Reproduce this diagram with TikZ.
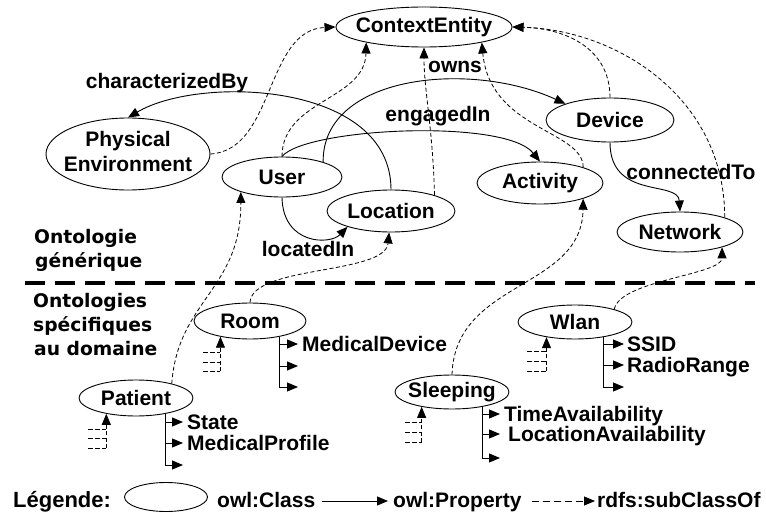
\documentclass[tikz,border=0pt]{standalone}
\usepackage{fontspec}
\setmainfont{Liberation Sans}
\newfontfamily\headfont{DejaVu Sans}
\usetikzlibrary{arrows.meta,shapes.geometric}
% text of zero width, so that the ellipse keeps its given size
\newcommand\zw[1]{\makebox[0pt][c]{#1}}
\begin{document}
\begin{tikzpicture}[x=1pt,y=-1pt,
  every node/.style={font=\bfseries\fontsize{21}{25}\selectfont, inner sep=0pt},
  cls/.style={draw, ellipse, line width=0.9pt},
  tip/.style={-{Triangle[length=11pt,width=9pt]}},
  prop/.style={tip, line width=0.9pt},
  sub/.style={tip, line width=0.8pt, dash pattern=on 4pt off 2.5pt},
  stubline/.style={line width=0.8pt, dash pattern=on 5pt off 2pt},
  lbl/.style={anchor=base},
  plbl/.style={anchor=base west},
  head/.style={anchor=base west, font=\headfont\bfseries\fontsize{18.7}{24}\selectfont}
]
\useasboundingbox (0,0) rectangle (766,516);

% ---- classes ----
\node[cls, minimum width=176pt, minimum height=40pt] (ce)   at (424,27)  {\zw{ContextEntity}};
\node[cls, minimum width=164pt, minimum height=72pt] (phys) at (128,154)
  {\zw{\begin{tabular}{@{}c@{}}Physical\\Environment\end{tabular}}};
\node[cls, minimum width=120pt, minimum height=40pt] (user) at (282,177) {\zw{User}};
\node[cls, minimum width=128pt, minimum height=42pt] (loc)  at (391,211) {\zw{Location}};
\node[cls, minimum width=128pt, minimum height=44pt] (dev)  at (610,120) {\zw{Device}};
\node[cls, minimum width=126pt, minimum height=42pt] (act)  at (540,183) {\zw{Activity}};
\node[cls, minimum width=126pt, minimum height=40pt] (net)  at (680,232) {\zw{Network}};
\node[cls, minimum width=112pt, minimum height=36pt] (room) at (250,321) {\zw{Room}};
\node[cls, minimum width=114pt, minimum height=36pt] (pat)  at (136,398) {\zw{Patient}};
\node[cls, minimum width=114pt, minimum height=34pt] (wlan) at (575,322) {\zw{Wlan}};
\node[cls, minimum width=114pt, minimum height=34pt] (slp)  at (452,392) {\zw{Sleeping}};

% ---- properties of the generic ontology ----
\draw[prop] (loc.north) .. controls (391,82) and (200,75) .. (phys.north);
\draw[prop] (user.20) .. controls (322,75) and (470,60) .. (dev.160);
\draw[prop] (user.north) .. controls (305,128) and (505,118) .. (act.north);
\draw[prop] (user.south) .. controls (283,245) and (330,245) .. (loc.200);
\draw[prop] (dev.south) .. controls (610,200) and (678,180) .. (net.north);

\node[lbl] (lcb) at (167,89)  {characterizedBy};
\node[lbl] (low) at (455,73)  {owns};
\node[lbl] (len) at (438,122) {engagedIn};
\node[lbl] (lct) at (691,179) {connectedTo};
\node[lbl] (lli) at (308,256) {locatedIn};

% ---- subclass links ----
\draw[sub] (phys.east) .. controls (275,150) and (265,30) .. (ce.west);
\draw[sub] (user.north) .. controls (282,100) and (365,100) .. (ce.195);
\draw[sub] (loc.20) .. controls (433,130) and (424,90) .. (ce.south);
\draw[sub] (act.20) .. controls (583,130) and (490,130) .. (ce.-15);
\draw[sub] (dev.north) .. controls (610,45) and (560,28) .. (ce.east);
\draw[sub] (net.18) .. controls (725,100) and (620,30) .. (ce.east);
\draw[sub] (pat.22) .. controls (178,300) and (241,290) .. (user.200);
\draw[sub] (room.north) .. controls (252,265) and (385,275) .. (loc.265);
\draw[sub] (slp.north) .. controls (455,280) and (582,290) .. (act.-20);
\draw[sub] (wlan.18) .. controls (620,280) and (722,275) .. (net.-20);

% ---- separator and section titles ----
\draw[line width=4pt, dash pattern=on 20pt off 10pt] (25,283) -- (755,283);
\node[head] (h1) at (34,243) {Ontologie};
\node[head] (h2) at (35,267) {générique};
\node[head] (h3) at (33,307) {Ontologies};
\node[head] (h4) at (33,331) {spécifiques};
\node[head] (h5) at (34,355) {au domaine};

% ---- domain classes: property stubs ----
\draw[prop] (pat.-28) |- (183,465);
\draw[prop] (pat.-28 |- 0,422) -- (183,422);
\draw[prop] (pat.-28 |- 0,443) -- (183,443);
\node[plbl] (pst) at (187,429.5) {State};
\node[plbl] (pmp) at (187,450.5) {MedicalProfile};

\draw[prop] (room.-28) |- (298,387);
\draw[prop] (room.-28 |- 0,344) -- (298,344);
\draw[prop] (room.-28 |- 0,366) -- (298,366);
\node[plbl] (rmd) at (302,351.5) {MedicalDevice};

\draw[prop] (wlan.-28) |- (624,387);
\draw[prop] (wlan.-28 |- 0,344) -- (624,344);
\draw[prop] (wlan.-28 |- 0,365) -- (624,365);
\node[plbl] (wss) at (627,351.5) {SSID};
\node[plbl] (wrr) at (627,372.5) {RadioRange};

\draw[prop] (slp.-26) |- (500,458);
\draw[prop] (slp.-26 |- 0,414) -- (500,414);
\draw[prop] (slp.-26 |- 0,434) -- (500,434);
\node[plbl] (sta) at (504,421.5) {TimeAvailability};
\node[plbl] (sla) at (508,441.5) {LocationAvailability};

% ---- domain classes: subclass stubs ----
\draw[sub] (pat.208 |- 0,448) -- (pat.208);
\foreach \yy in {429,438,448} \draw[stubline] (88,\yy) -- (pat.208 |- 0,\yy);
\draw[sub] (room.208 |- 0,371) -- (room.208);
\foreach \yy in {352,362,371} \draw[stubline] (203,\yy) -- (room.208 |- 0,\yy);
\draw[sub] (wlan.208 |- 0,371) -- (wlan.208);
\foreach \yy in {351,361,371} \draw[stubline] (527,\yy) -- (wlan.208 |- 0,\yy);
\draw[sub] (slp.206 |- 0,442) -- (slp.206);
\foreach \yy in {422,432,442} \draw[stubline] (405,\yy) -- (slp.206 |- 0,\yy);

% ---- legend ----
\node[plbl, font=\bfseries\fontsize{22}{26}\selectfont] (leg) at (13,507) {Légende:};
\node[cls, minimum width=83pt, minimum height=29pt] (lgc) at (166,497) {};
\node[plbl] (lgt1) at (217,507) {owl:Class};
\coordinate (lpa) at (322,501);
\coordinate (lpb) at (388,501);
\draw[prop] (lpa) -- (lpb);
\node[plbl] (lgt2) at (393,507) {owl:Property};
\coordinate (lsa) at (532,501);
\coordinate (lsb) at (595,501);
\draw[sub, dash pattern=on 7pt off 4pt] (lsa) -- (lsb);
\node[plbl] (lgt3) at (597,507) {rdfs:subClassOf};
\end{tikzpicture}
\end{document}
